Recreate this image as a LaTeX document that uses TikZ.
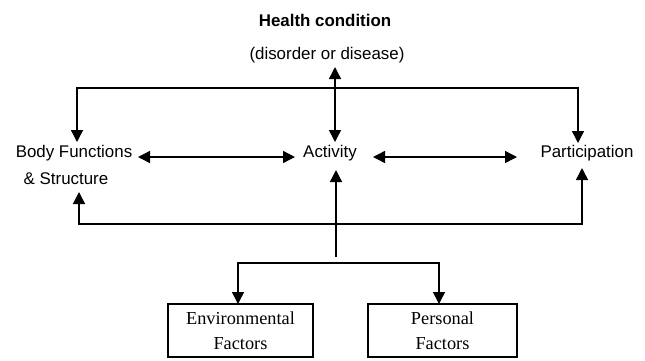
\documentclass[tikz,border=0pt]{standalone}
\usepackage{fontspec}
\setmainfont{Liberation Serif}
\setsansfont{Liberation Sans}
\usetikzlibrary{arrows.meta}
\begin{document}
\begin{tikzpicture}[x=1pt,y=-1pt,
  lbl/.style={font=\sffamily\fontsize{16.9}{20}\selectfont, inner sep=0pt},
  boldlbl/.style={font=\sffamily\bfseries\fontsize{16.9}{20}\selectfont, inner sep=0pt},
  factorbox/.style={draw, line width=1.4pt, minimum height=53pt, align=center,
    font=\rmfamily\fontsize{18.3}{23}\selectfont, inner sep=0pt},
  conn/.style={line width=1.4pt},
  onetip/.style={-{Triangle[length=12pt,width=12pt]}},
  twotips/.style={{Triangle[length=12pt,width=12pt]}-{Triangle[length=12pt,width=12pt]}}]
\useasboundingbox (0,0) rectangle (645,360);
% text nodes
\node[boldlbl] (hc) at (325,20) {Health condition};
\node[lbl] (dd) at (327,55) {(disorder or disease)};
\node[lbl] (act) at (330,153) {Activity};
\node[lbl] (bf1) at (74,153) {Body Functions};
\node[lbl] (bf2) at (66,179) {\& Structure};
\node[lbl] (par) at (587,153) {Participation};
\node[factorbox, minimum width=145pt] (env) at (240.5,330.5) {Environmental\\[1.5pt]Factors};
\node[factorbox, minimum width=149pt] (pers) at (442.5,330.5) {Personal\\[1.5pt]Factors};
% connector end points
\coordinate (ddBot) at (335,67);
\coordinate (actTop) at (335,142);
\coordinate (actBot) at (336,170);
\coordinate (actL) at (295,157);
\coordinate (actR) at (373,157);
\coordinate (bfR) at (138,157);
\coordinate (parL) at (517,157);
\coordinate (bfTop) at (77,142);
\coordinate (parTop) at (578,143);
\coordinate (topY) at (335,88);
\coordinate (bfBot) at (79,192);
\coordinate (parBot) at (582,168);
\coordinate (botY) at (335,224);
\coordinate (stemEnd) at (336,257);
\coordinate (branchY) at (336,263);
\coordinate (envIn) at (238,304);
\coordinate (persIn) at (439,304);
% connectors
\draw[conn,twotips] (ddBot) -- (actTop);
\draw[conn,twotips] (bfTop) -- (bfTop |- topY) -- (parTop |- topY) -- (parTop);
\draw[conn,twotips] (bfR) -- (actL);
\draw[conn,twotips] (actR) -- (parL);
\draw[conn,twotips] (bfBot) -- (bfBot |- botY) -- (parBot |- botY) -- (parBot);
\draw[conn,onetip] (stemEnd) -- (actBot);
\draw[conn,twotips] (envIn) -- (envIn |- branchY) -- (persIn |- branchY) -- (persIn);
\end{tikzpicture}
\end{document}
